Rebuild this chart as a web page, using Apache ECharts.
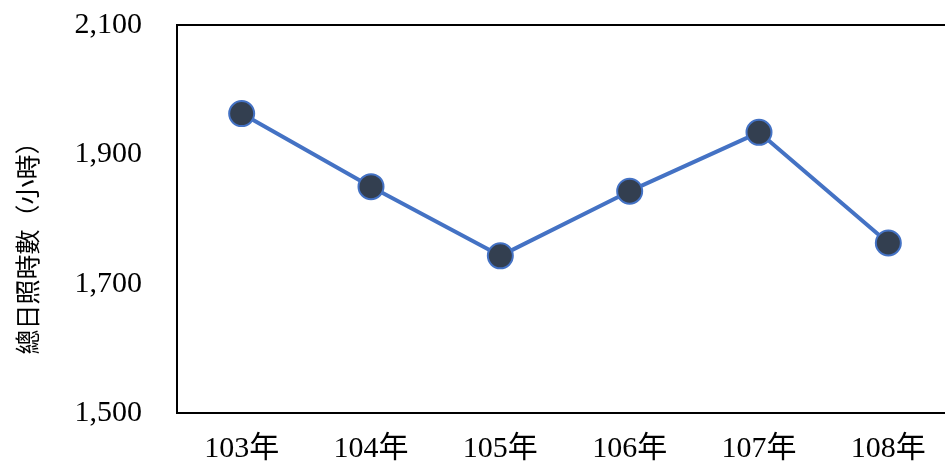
<!DOCTYPE html>
<html>
<head>
<meta charset="utf-8">
<script src="https://cdn.jsdelivr.net/npm/echarts@6/dist/echarts.min.js"></script>
<style>
  html, body { margin: 0; padding: 0; background: #ffffff; overflow: hidden; }
  #chart { width: 970px; height: 464px; }
</style>
</head>
<body>
<div id="chart"></div>
<script>
// Annual total sunshine hours by ROC year
var years = ['103年', '104年', '105年', '106年', '107年', '108年'];
var sunshineHours = [1963, 1850, 1743, 1843, 1934, 1763];
var yTicks = { min: 1500, max: 2100, interval: 200 };
var yTitle = '總日照時數（小時）';

var serif = '"Liberation Serif", "Times New Roman", "Noto Sans CJK TC", serif';
var frameLine = { show: true, lineStyle: { color: '#000000', width: 2 } };

// the canvas is a little wider than the window, so the frame's right side falls out of view
var chart = echarts.init(document.getElementById('chart'), null, { renderer: 'canvas' });
chart.setOption({
  backgroundColor: '#ffffff',
  animation: false,
  grid: {
    left: 177, top: 25, bottom: 51, width: 776,
    outerBoundsMode: 'none',
    containLabel: false,
    show: true, borderColor: '#000000', borderWidth: 2, backgroundColor: 'transparent'
  },
  xAxis: {
    type: 'category',
    data: years,
    boundaryGap: true,
    axisLine: frameLine,
    axisTick: { show: false },
    axisLabel: { color: '#000000', fontFamily: serif, fontSize: 30, margin: 21 },
    splitLine: { show: false }
  },
  yAxis: {
    type: 'value',
    min: yTicks.min, max: yTicks.max, interval: yTicks.interval,
    axisLine: frameLine,
    axisTick: { show: false },
    splitLine: { show: false },
    axisLabel: {
      color: '#000000', fontFamily: serif, fontSize: 30, margin: 35,
      formatter: function (v) { return v.toLocaleString('en-US'); }
    }
  },
  graphic: [{
    type: 'text',
    x: 27, y: 242,
    rotation: Math.PI / 2,
    style: {
      text: yTitle,
      fill: '#000000',
      font: '25px "Noto Sans CJK TC", sans-serif',
      textAlign: 'center',
      textVerticalAlign: 'middle'
    }
  }],
  series: [{
    type: 'line',
    data: sunshineHours,
    symbol: 'circle',
    symbolSize: 25,
    lineStyle: { color: '#4472C4', width: 4 },
    itemStyle: { color: '#333F50', borderColor: '#4472C4', borderWidth: 2 },
    z: 3
  }]
});
</script>
</body>
</html>
